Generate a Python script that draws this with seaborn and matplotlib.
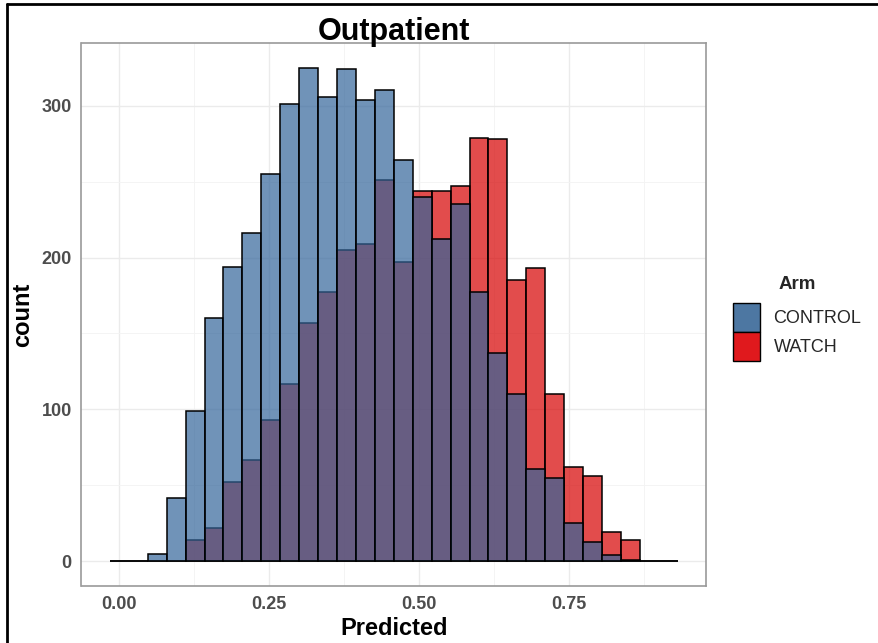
import numpy as np
import pandas as pd
import matplotlib
matplotlib.use("Agg")
import matplotlib.pyplot as plt
from matplotlib.patches import Patch
from matplotlib.lines import Line2D
import seaborn as sns

# ---- data (counts per bin, 30 bins) ----
arms = ["CONTROL", "WATCH"]
control_counts = [0, 0, 5, 42, 99, 160, 194, 216, 255, 301, 325, 306, 324, 304, 310,
                  264, 240, 212, 235, 177, 137, 110, 61, 55, 25, 13, 4, 1, 0, 0]
watch_counts = [0, 0, 0, 0, 14, 22, 52, 67, 93, 117, 157, 177, 205, 209, 251,
                197, 244, 244, 247, 279, 278, 185, 193, 110, 62, 56, 19, 14, 0, 0]
bin_start = -0.0145
bin_stop = 0.931
n_bins = 30
x_ticks = [0.00, 0.25, 0.50, 0.75]
x_ticklabels = ["0.00", "0.25", "0.50", "0.75"]
y_ticks = [0, 100, 200, 300]

edges = np.linspace(bin_start, bin_stop, n_bins + 1)
centers = (edges[:-1] + edges[1:]) / 2
df = pd.concat([
    pd.DataFrame({"Predicted": centers, "count": control_counts, "Arm": "CONTROL"}),
    pd.DataFrame({"Predicted": centers, "count": watch_counts, "Arm": "WATCH"}),
], ignore_index=True)

colors = {"CONTROL": "#33659A", "WATCH": "#D60000"}
legend_colors = {"CONTROL": "#4D77A2", "WATCH": "#E0191D"}

sns.set_style("white")
plt.rcParams["font.family"] = ["Liberation Sans", "DejaVu Sans"]

fig = plt.figure(figsize=(8.79, 6.43), dpi=100)
ax = fig.add_axes([81.5 / 879, 1 - 586 / 643, (706 - 81.5) / 879, (586 - 43) / 643])

# draw WATCH first so CONTROL layers on top (as in reference)
for arm in ["WATCH", "CONTROL"]:
    sns.histplot(data=df[df["Arm"] == arm], x="Predicted", weights="count",
                 bins=edges.tolist(), color=colors[arm], alpha=0.7, edgecolor="black",
                 linewidth=1.1, ax=ax, legend=False, zorder=3)

ax.set_xlim(-0.0618, 0.978)
ax.set_ylim(-16.25, 341.25)
ax.set_xticks(x_ticks)
ax.set_xticklabels(x_ticklabels)
ax.set_yticks(y_ticks)
ax.set_xticks([0.125, 0.375, 0.625, 0.875], minor=True)
ax.set_yticks([50, 150, 250], minor=True)
ax.grid(True, which="major", color="#EBEBEB", linewidth=1.0, zorder=0)
ax.grid(True, which="minor", color="#F3F3F3", linewidth=0.6, zorder=0)
ax.set_axisbelow(True)
ax.tick_params(axis="both", which="major", direction="out", length=4, width=1,
               color="#888888", labelsize=13, labelcolor="#4D4D4D", pad=3)
ax.tick_params(axis="both", which="minor", length=0)
for lab in ax.get_xticklabels() + ax.get_yticklabels():
    lab.set_fontweight("bold")
for s in ax.spines.values():
    s.set_visible(True)
    s.set_color("#999999")
    s.set_linewidth(1.2)

ax.set_xlabel("Predicted", fontsize=17, fontweight="bold", color="black", labelpad=3)
ax.set_ylabel("count", fontsize=17, fontweight="bold", color="black", labelpad=5)
ax.set_title("Outpatient", fontsize=22, fontweight="bold", color="black", pad=2)

handles = [Patch(facecolor=legend_colors[a], edgecolor="black", linewidth=1.0, label=a)
           for a in arms]
leg = fig.legend(handles=handles, title="Arm", loc="upper left",
                 bbox_to_anchor=(733 / 879, 1 - 276 / 643), frameon=False,
                 fontsize=13, title_fontproperties={"weight": "bold", "size": 13.5},
                 handlelength=1.5, handleheight=2.1, labelspacing=0.0,
                 handletextpad=0.75, borderaxespad=0, borderpad=0)
leg._legend_box.sep = 7

# outer frame lines (left and top)
fig.add_artist(Line2D([7 / 879, 7 / 879], [0, 1 - 4 / 643], color="black", linewidth=2,
                      transform=fig.transFigure))
fig.add_artist(Line2D([7 / 879, 1], [1 - 4 / 643, 1 - 4 / 643], color="black", linewidth=2,
                      transform=fig.transFigure))

fig.savefig("out.png", dpi=100, facecolor="white")
